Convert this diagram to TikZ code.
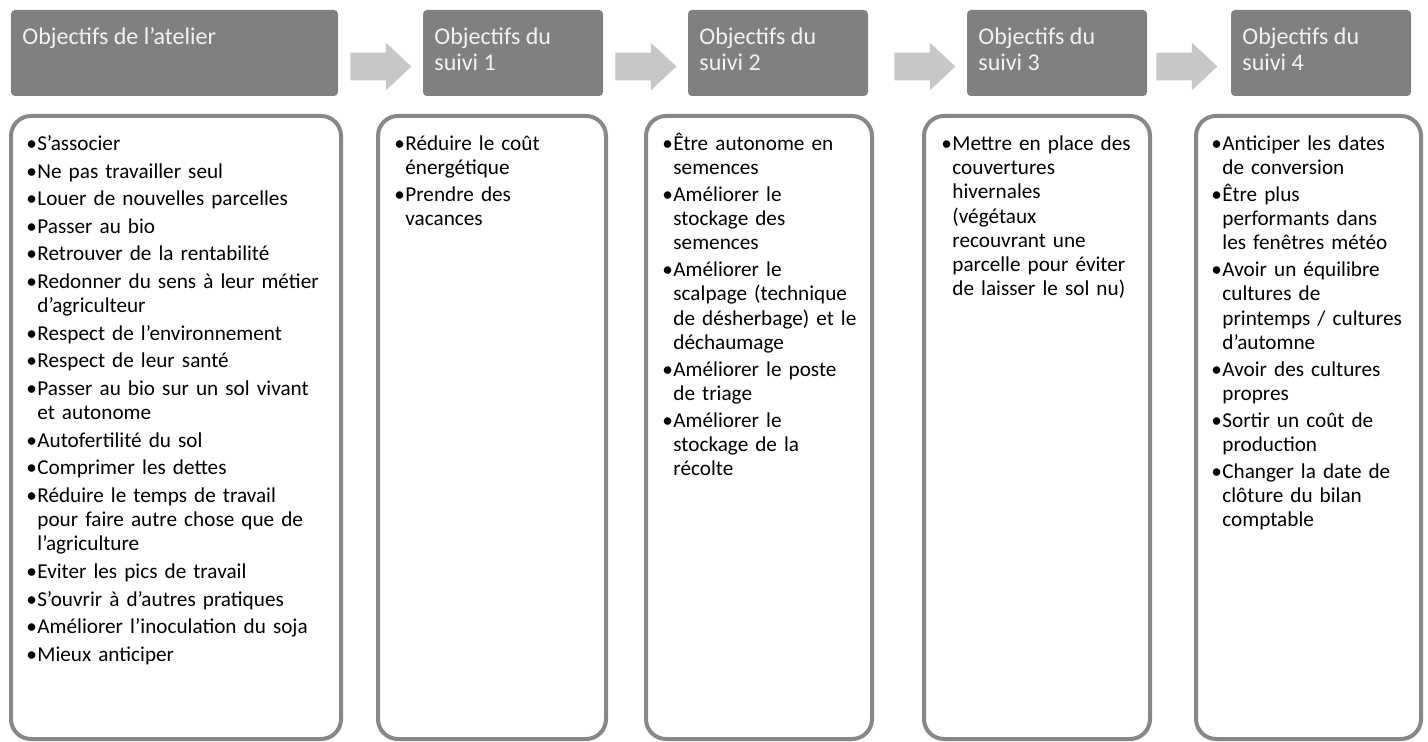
\documentclass[tikz,border=0pt]{standalone}
\usepackage{fontspec}
\setmainfont{Carlito}
\usetikzlibrary{shapes.arrows}
\colorlet{hdrColor}{black!50}
\colorlet{arrColor}{black!22}
\colorlet{boxColor}{black!47}
\newlength{\itemgap}
\setlength{\itemgap}{1.3pt}
\newcommand{\obj}[1]{\par\noindent\hangindent=5.5pt\hangafter=1 \strut\makebox[5.5pt][l]{•}{\let\\\newline#1}\par\vspace{\itemgap}}
\tikzset{
  hdr/.style={fill=hdrColor, rounded corners=2pt, anchor=north west, inner sep=0pt, outer sep=0pt, minimum width=90pt, minimum height=43pt},
  hdrtxt/.style={anchor=north west, inner sep=0pt, align=left, text=white!95!black, font=\fontsize{12}{13}\selectfont},
  objbox/.style={draw=boxColor, line width=2pt, fill=white, rounded corners=10pt, anchor=north west, inner sep=0pt, outer sep=0pt, minimum width=113pt, minimum height=311.5pt},
  objtxt/.style={anchor=north west, inner sep=0pt, text width=#1, font=\fontsize{10.6}{12.1}\selectfont\raggedright},
  flow/.style={single arrow, fill=arrColor, anchor=tail, single arrow head extend=5pt, single arrow tip angle=86, minimum height=30.5pt, inner xsep=0pt, inner ysep=6.75pt},
}
\begin{document}
\begin{tikzpicture}[x=0.5pt,y=-0.5pt]
\fill[white] (0,0) rectangle (1428,742);
% headers
\node[hdr, minimum width=163.5pt] (h1) at (11,10) {};
\node[hdr] (h2) at (423,10) {};
\node[hdr] (h3) at (688,10) {};
\node[hdr] (h4) at (967,10) {};
\node[hdr] (h5) at (1231,10) {};
\node[hdrtxt] (t1) at (22,26) {\strut Objectifs de l’atelier};
\node[hdrtxt] (t2) at (434,26) {\strut Objectifs du\\suivi 1};
\node[hdrtxt] (t3) at (699,26) {\strut Objectifs du\\suivi 2};
\node[hdrtxt] (t4) at (978,26) {\strut Objectifs du\\suivi 3};
\node[hdrtxt] (t5) at (1242,26) {\strut Objectifs du\\suivi 4};
% arrows
\node[flow] (a1) at (350,66.5) {};
\node[flow] (a2) at (615,66.5) {};
\node[flow] (a3) at (894,66.5) {};
\node[flow] (a4) at (1156,66.5) {};
% boxes
\node[objbox, minimum width=165pt] (b1) at (11,116) {};
\node[objbox, minimum width=114pt] (b2) at (378,116) {};
\node[objbox] (b3) at (646,116) {};
\node[objbox] (b4) at (924,116) {};
\node[objbox, minimum width=112.5pt] (b5) at (1196,116) {};
\node[objtxt=160pt] (o1) at (26,126) {\setlength{\itemgap}{1.7pt}%
\obj{S’associer}
\obj{Ne pas travailler seul}
\obj{Louer de nouvelles parcelles}
\obj{Passer au bio}
\obj{Retrouver de la rentabilité}
\obj{Redonner du sens à leur métier\\d'agriculteur}
\obj{Respect de l’environnement}
\obj{Respect de leur santé}
\obj{Passer au bio sur un sol vivant\\et autonome}
\obj{Autofertilité du sol}
\obj{Comprimer les dettes}
\obj{Réduire le temps de travail\\pour faire autre chose que de\\l'agriculture}
\obj{Eviter les pics de travail}
\obj{S'ouvrir à d'autres pratiques}
\obj{Améliorer l'inoculation du soja}
\obj{Mieux anticiper}};
\node[objtxt=108pt] (o2) at (394,126) {%
\obj{Réduire le coût\\énergétique}
\obj{Prendre des\\vacances}};
\node[objtxt=108pt] (o3) at (662,126) {%
\obj{Être autonome en\\semences}
\obj{Améliorer le\\stockage des\\semences}
\obj{Améliorer le\\scalpage (technique\\de désherbage) et le\\déchaumage}
\obj{Améliorer le poste\\de triage}
\obj{Améliorer le\\stockage de la\\récolte}};
\node[objtxt=108pt] (o4) at (941,126) {%
\obj{Mettre en place des\\couvertures\\hivernales\\(végétaux\\recouvrant une\\parcelle pour éviter\\de laisser le sol nu)}};
\node[objtxt=108pt] (o5) at (1211,126) {%
\obj{Anticiper les dates\\de conversion}
\obj{Être plus\\performants dans\\les fenêtres météo}
\obj{Avoir un équilibre\\cultures de\\printemps / cultures\\d’automne}
\obj{Avoir des cultures\\propres}
\obj{Sortir un coût de\\production}
\obj{Changer la date de\\clôture du bilan\\comptable}};
\end{tikzpicture}
\end{document}
